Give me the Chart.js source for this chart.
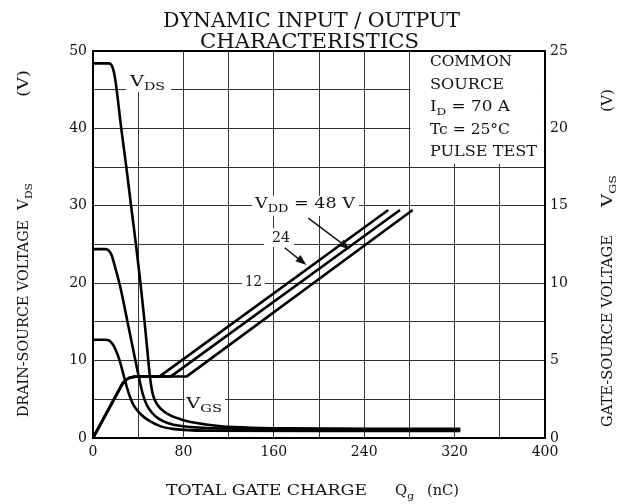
<!DOCTYPE html>
<html>
<head>
<meta charset="utf-8">
<title>Dynamic input / output characteristics</title>
<script src="https://cdn.jsdelivr.net/npm/chart.js@4.4.1/dist/chart.umd.min.js"></script>
<style>
  html, body { margin: 0; padding: 0; background: #fff; }
  canvas { display: block; }
</style>
</head>
<body>
<canvas id="gateChart" width="624" height="504"></canvas>
<script>
// Tick labels
const qTicks = [0, 80, 160, 240, 320, 400]
const vdsTicks = [0, 10, 20, 30, 40, 50]
const vgsTicks = [0, 5, 10, 15, 20, 25]

// V_DS curves (left axis, V) against gate charge (nC)
const vds48Q = [0, 14, 17, 19.5, 25, 29.5, 33.7, 38, 42, 45.5, 48.3, 50.5, 53, 57, 63, 78, 100, 125, 170, 250, 325]
const vds48V = [48.4, 48.4, 48.0, 46.5, 40, 35, 30, 25, 20, 15.2, 11, 7.8, 5.6, 4.3, 3.4, 2.4, 1.75, 1.4, 1.25, 1.2, 1.2]
const vds24Q = [0, 11, 14, 16.5, 19.5, 24, 30, 36, 41, 44, 47.5, 52, 58, 66, 78, 100, 140, 200, 325]
const vds24V = [24.4, 24.4, 24.2, 23.6, 22.1, 19.6, 15.4, 11.1, 7.6, 5.7, 4.3, 3.3, 2.5, 1.95, 1.55, 1.3, 1.15, 1.1, 1.05]
const vds12Q = [0, 11, 14, 17, 20, 23.6, 28, 32, 36, 42, 50, 60, 72, 100, 200, 325]
const vds12V = [12.7, 12.7, 12.6, 12.2, 11.4, 10.0, 7.6, 5.6, 4.2, 3.1, 2.2, 1.5, 1.15, 0.95, 0.9, 0.9]

// V_GS curves (right axis, V): shared rise, then plateau end and top end per V_DD
const vgsRiseQ = [0, 26, 29, 32, 36, 40]
const vgsRiseV = [0, 3.5, 3.75, 3.88, 3.95, 3.97]
const vgs12Q = [59, 261.3]
const vgs12V = [3.98, 14.73]
const vgs24Q = [69, 271.7]
const vgs24V = [3.98, 14.73]
const vgs48Q = [83, 282.9]
const vgs48V = [3.98, 14.73]

const SERIF = '"DejaVu Serif", "Liberation Serif", serif'
const GRID = "#333"

const pts = (qs, vs) => qs.map((q, i) => ({ x: q, y: vs[i] }))

const vdsSet = (qs, vs) => ({
  data: pts(qs, vs),
  yAxisID: "y",
  cubicInterpolationMode: "monotone",
})
const vgsSet = (qs, vs) => ({
  data: pts(vgsRiseQ.concat(qs), vgsRiseV.concat(vs)),
  yAxisID: "y1",
  tension: 0,
})

// draw text pieces [text, size, dy] along a baseline, squeezed/stretched to width
function runs(ctx, parts, x, y, width, rot) {
  ctx.save()
  ctx.translate(x, y)
  if (rot) ctx.rotate(rot)
  let nat = 0
  parts.forEach((p) => {
    ctx.font = p[1] + "px " + SERIF
    nat += ctx.measureText(p[0]).width
  })
  ctx.scale(width ? width / nat : 1, 1)
  let cx = 0
  parts.forEach((p) => {
    ctx.font = p[1] + "px " + SERIF
    ctx.fillText(p[0], cx, p[2] || 0)
    cx += ctx.measureText(p[0]).width
  })
  ctx.restore()
}

function arrow(ctx, x0, y0, x1, y1) {
  const ang = Math.atan2(y1 - y0, x1 - x0)
  ctx.beginPath()
  ctx.moveTo(x0, y0)
  ctx.lineTo(x1 - 8 * Math.cos(ang), y1 - 8 * Math.sin(ang))
  ctx.stroke()
  ctx.beginPath()
  ctx.moveTo(x1, y1)
  ctx.lineTo(x1 - 11 * Math.cos(ang) + 4 * Math.sin(ang), y1 - 11 * Math.sin(ang) - 4 * Math.cos(ang))
  ctx.lineTo(x1 - 11 * Math.cos(ang) - 4 * Math.sin(ang), y1 - 11 * Math.sin(ang) + 4 * Math.cos(ang))
  ctx.closePath()
  ctx.fill()
}

const annotate = {
  id: "annotate",
  beforeDatasetsDraw(chart) {
    const { ctx, scales } = chart
    const X = (q) => scales.x.getPixelForValue(q)
    const Y = (v) => scales.y.getPixelForValue(v)
    const box = (q0, v0, q1, v1) => ctx.fillRect(X(q0), Y(v0), X(q1) - X(q0), Y(v1) - Y(v0))

    ctx.save()
    // blank paper behind the labels
    ctx.fillStyle = "#fff"
    box(29.2, 50, 69, 44.7)
    box(281, 50, 399, 35.4)
    box(140.7, 31.3, 235.4, 28.7)
    box(151.3, 27.1, 177.9, 24.7)
    box(131.9, 21.4, 152.2, 19.2)
    box(81, 6.3, 116.8, 3.2)

    ctx.fillStyle = "#111"
    ctx.textBaseline = "alphabetic"
    runs(ctx, [["V", 15], ["DS", 11, 4]], X(32.7), Y(45.5), 35)
    runs(ctx, [["V", 15], ["DD", 11, 4], [" = 48 V", 15]], X(143.4), Y(29.7), 100)
    runs(ctx, [["24", 15]], X(158.4), Y(25.35), 18)
    runs(ctx, [["12", 15]], X(134.5), Y(19.6), 17)
    runs(ctx, [["V", 15], ["GS", 11, 4]], X(82.3), Y(3.9), 36)

    // test conditions
    runs(ctx, [["COMMON", 14]], X(298.2), Y(48.1), 82)
    runs(ctx, [["SOURCE", 14]], X(298.2), Y(45.1), 74)
    runs(ctx, [["I", 14], ["D", 10, 4], [" = 70 A", 14]], X(298.2), Y(42.3), 80)
    runs(ctx, [["Tc = 25\u00b0C", 14]], X(298.2), Y(39.3), 80)
    runs(ctx, [["PULSE TEST", 14]], X(298.2), Y(36.4), 107)
    ctx.restore()
  },
  afterDatasetsDraw(chart) {
    const { ctx, scales } = chart
    const X = (q) => scales.x.getPixelForValue(q)
    const Y1 = (v) => scales.y1.getPixelForValue(v)
    ctx.save()
    ctx.strokeStyle = "#111"
    ctx.fillStyle = "#111"
    ctx.lineWidth = 1.4
    arrow(ctx, X(190.5), Y1(14.2), X(227.4), Y1(12.18))
    arrow(ctx, X(169.6), Y1(12.29), X(188.9), Y1(11.17))
    ctx.restore()
  },
  afterDraw(chart) {
    const { ctx, chartArea: a } = chart
    ctx.save()
    ctx.strokeStyle = "#000"
    ctx.lineWidth = 2
    ctx.strokeRect(a.left, a.top, a.right - a.left, a.bottom - a.top)

    ctx.fillStyle = "#111"
    ctx.textBaseline = "alphabetic"
    // title
    runs(ctx, [["DYNAMIC INPUT / OUTPUT", 20]], 163, 27, 297)
    runs(ctx, [["CHARACTERISTICS", 20]], 200, 48, 219)
    // x axis title
    runs(ctx, [["TOTAL GATE CHARGE", 14]], 166, 495, 201)
    runs(ctx, [["Q", 14], ["g", 10, 4]], 395, 495, 19)
    runs(ctx, [["(nC)", 14]], 427, 495, 32)
    // left axis title
    const up = -Math.PI / 2
    runs(ctx, [["DRAIN-SOURCE VOLTAGE", 14]], 28, 417, 197, up)
    runs(ctx, [["V", 14], ["DS", 10, 4]], 28, 210, 27, up)
    runs(ctx, [["(V)", 14]], 28, 97, 27, up)
    // right axis title
    runs(ctx, [["GATE-SOURCE VOLTAGE", 14]], 612, 427, 192, up)
    runs(ctx, [["V", 14], ["GS", 10, 4]], 612, 207, 32, up)
    runs(ctx, [["(V)", 14]], 612, 112, 23, up)
    ctx.restore()
  },
}

const tickFont = { family: SERIF, size: 14 }

new Chart(document.getElementById("gateChart"), {
  type: "line",
  data: {
    datasets: [
      vdsSet(vds48Q, vds48V),
      vdsSet(vds24Q, vds24V),
      vdsSet(vds12Q, vds12V),
      vgsSet(vgs12Q, vgs12V),
      vgsSet(vgs24Q, vgs24V),
      vgsSet(vgs48Q, vgs48V),
    ],
  },
  options: {
    responsive: false,
    animation: false,
    layout: { padding: { top: 51 } },
    elements: {
      point: { radius: 0 },
      line: { borderColor: "#000", borderWidth: 2.6, fill: false },
    },
    plugins: { legend: { display: false }, tooltip: { enabled: false } },
    scales: {
      x: {
        type: "linear",
        min: 0,
        max: 400,
        afterFit: (s) => { s.height = 66 },
        ticks: {
          stepSize: 40,
          autoSkip: false,
          maxRotation: 0,
          padding: 6,
          color: "#111",
          font: tickFont,
          callback: (v) => (qTicks.includes(v) ? v : ""),
        },
        grid: { color: GRID, lineWidth: 1, drawTicks: false },
        border: { display: false },
      },
      y: {
        position: "left",
        min: 0,
        max: 50,
        afterFit: (s) => { s.width = 93 },
        ticks: {
          stepSize: 5,
          autoSkip: false,
          padding: 6,
          color: "#111",
          font: tickFont,
          callback: (v) => (vdsTicks.includes(v) ? v : ""),
        },
        grid: { color: GRID, lineWidth: 1, drawTicks: false },
        border: { display: false },
      },
      y1: {
        position: "right",
        min: 0,
        max: 25,
        afterFit: (s) => { s.width = 79 },
        ticks: {
          stepSize: 5,
          autoSkip: false,
          padding: 5,
          color: "#111",
          font: tickFont,
          callback: (v) => (vgsTicks.includes(v) ? v : ""),
        },
        grid: { drawOnChartArea: false, drawTicks: false },
        border: { display: false },
      },
    },
  },
  plugins: [annotate],
})
</script>
</body>
</html>
